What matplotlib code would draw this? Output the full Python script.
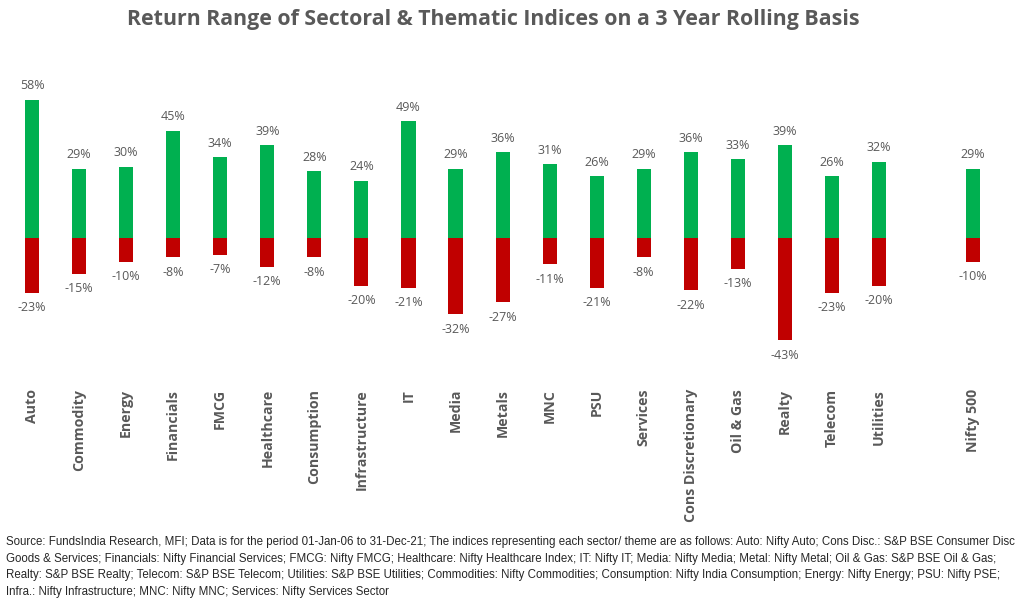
import matplotlib.pyplot as plt

# Return range (%) of each index on a 3 year rolling basis
sectors = ["Auto", "Commodity", "Energy", "Financials", "FMCG", "Healthcare",
           "Consumption", "Infrastructure", "IT", "Media", "Metals", "MNC",
           "PSU", "Services", "Cons Discretionary", "Oil & Gas", "Realty",
           "Telecom", "Utilities", "Nifty 500"]
max_return = [58, 29, 30, 45, 34, 39, 28, 24, 49, 29, 36, 31, 26, 29, 36, 33, 39, 26, 32, 29]
min_return = [-23, -15, -10, -8, -7, -12, -8, -20, -21, -32, -27, -11, -21, -8, -22, -13, -43, -23, -20, -10]

GREEN = "#00B050"
RED = "#C00000"
GREY = "#595959"
plt.rcParams["font.family"] = ["Open Sans", "DejaVu Sans"]

# leave an empty slot before the benchmark
xpos = list(range(len(sectors) - 1)) + [len(sectors)]

fig = plt.figure(figsize=(10.24, 6.1), dpi=100)
ax = fig.add_axes([0.0083, 0.4148, 0.965, 0.4487])

ax.bar(xpos, max_return, width=0.3, color=GREEN)
ax.bar(xpos, min_return, width=0.3, color=RED)

for x, hi, lo in zip(xpos, max_return, min_return):
    ax.annotate(f"{hi}%", (x, hi), xytext=(0, 14), textcoords="offset pixels",
                ha="center", va="center", fontsize=9, color=GREY)
    ax.annotate(f"{lo}%", (x, lo), xytext=(0, -15), textcoords="offset pixels",
                ha="center", va="center", fontsize=9, color=GREY)

ax.set_xlim(-0.5, len(sectors) + 0.5)
ax.set_ylim(-50, 65)
ax.set_xticks(xpos)
ax.set_xticklabels(sectors, rotation=90, fontsize=10.2, fontweight="bold", color=GREY)
ax.tick_params(axis="x", length=0, pad=23)
ax.set_yticks([])
for s in ax.spines.values():
    s.set_visible(False)

fig.text(0.482, 0.968, "Return Range of Sectoral & Thematic Indices on a 3 Year Rolling Basis",
         ha="center", va="center", fontsize=15.4, fontweight="bold", color=GREY)

note = ("Source: FundsIndia Research, MFI; Data is for the period 01-Jan-06 to 31-Dec-21; The indices representing each sector/ theme are as follows: Auto: Nifty Auto; Cons Disc.: S&P BSE Consumer Disc\n"
        "Goods & Services; Financials: Nifty Financial Services; FMCG: Nifty FMCG; Healthcare: Nifty Healthcare Index; IT: Nifty IT; Media: Nifty Media; Metal: Nifty Metal; Oil & Gas: S&P BSE Oil & Gas;\n"
        "Realty: S&P BSE Realty; Telecom: S&P BSE Telecom; Utilities: S&P BSE Utilities; Commodities: Nifty Commodities; Consumption: Nifty India Consumption; Energy: Nifty Energy; PSU: Nifty PSE;\n"
        "Infra.: Nifty Infrastructure; MNC: Nifty MNC; Services: Nifty Services Sector")
fig.text(0.006, 0.122, note, ha="left", va="top", fontsize=8.3, color="#262626",
         family=["Liberation Sans Narrow", "Liberation Sans", "DejaVu Sans"], linespacing=1.55)

fig.savefig("out.png", dpi=100)
